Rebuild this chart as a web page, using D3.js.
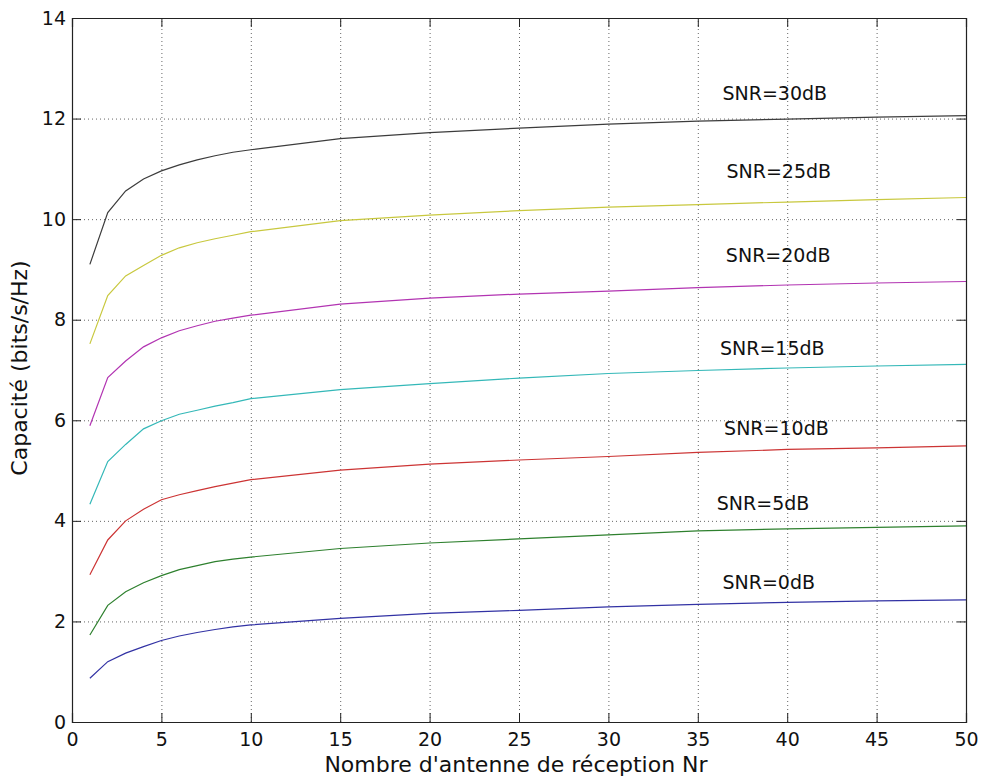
<!DOCTYPE html>
<html>
<head>
<meta charset="utf-8">
<script src="https://cdn.jsdelivr.net/npm/d3@7"></script>
<style>
  body { margin: 0; background: #fff; }
  text { font-family: "DejaVu Sans", sans-serif; fill: #111; }
</style>
</head>
<body>
<div id="chart"></div>
<script>
// Nombre d'antennes de réception (abscisses des points lus)
const nr = [1, 2, 3, 4, 5, 6, 7, 8, 9, 10, 15, 20, 25, 30, 35, 40, 45, 50];

// capacité (bits/s/Hz) pour chaque SNR
const cap0dB  = [0.87, 1.20, 1.37, 1.50, 1.62, 1.71, 1.78, 1.84, 1.89, 1.93, 2.06, 2.16, 2.22, 2.29, 2.34, 2.38, 2.41, 2.43];
const cap5dB  = [1.73, 2.32, 2.59, 2.77, 2.91, 3.03, 3.11, 3.19, 3.24, 3.28, 3.45, 3.56, 3.64, 3.72, 3.80, 3.84, 3.87, 3.90];
const cap10dB = [2.93, 3.62, 4.00, 4.23, 4.42, 4.52, 4.60, 4.68, 4.75, 4.82, 5.01, 5.13, 5.21, 5.28, 5.36, 5.42, 5.45, 5.49];
const cap15dB = [4.33, 5.18, 5.52, 5.83, 5.99, 6.12, 6.20, 6.28, 6.35, 6.43, 6.61, 6.73, 6.84, 6.93, 6.99, 7.04, 7.08, 7.11];
const cap20dB = [5.89, 6.85, 7.18, 7.46, 7.64, 7.78, 7.88, 7.97, 8.03, 8.09, 8.31, 8.43, 8.51, 8.57, 8.64, 8.69, 8.73, 8.76];
const cap25dB = [7.52, 8.48, 8.87, 9.08, 9.28, 9.43, 9.53, 9.61, 9.68, 9.75, 9.97, 10.08, 10.17, 10.24, 10.29, 10.34, 10.39, 10.43];
const cap30dB = [9.10, 10.13, 10.56, 10.80, 10.96, 11.08, 11.18, 11.26, 11.33, 11.38, 11.60, 11.72, 11.81, 11.89, 11.95, 11.99, 12.03, 12.06];

const snrLabels = ["SNR=0dB", "SNR=5dB", "SNR=10dB", "SNR=15dB", "SNR=20dB", "SNR=25dB", "SNR=30dB"];
const xTicks = [0, 5, 10, 15, 20, 25, 30, 35, 40, 45, 50];
const yTicks = [0, 2, 4, 6, 8, 10, 12, 14];

const series = [cap0dB, cap5dB, cap10dB, cap15dB, cap20dB, cap25dB, cap30dB];
const colors = ["#3232a4", "#2e802e", "#cc3434", "#34b8b8", "#b234b2", "#c8c83e", "#3c3c3c"];
// where each label sits, in data units (left edge, baseline)
const labelPos = [[36.38, 2.64], [36.06, 4.21], [36.47, 5.71], [36.24, 7.30], [36.57, 9.15], [36.6, 10.81], [36.38, 12.37]];

const W = 983, H = 783;
const margin = {top: 18, right: 17, bottom: 61, left: 72};
const width = W - margin.left - margin.right;
const height = H - margin.top - margin.bottom;

const svg = d3.select("#chart").append("svg")
    .attr("width", W)
    .attr("height", H)
  .append("g")
    .attr("transform", "translate(" + margin.left + "," + margin.top + ")");

const x = d3.scaleLinear().domain([0, 50]).range([0, width]);
const y = d3.scaleLinear().domain([0, 14]).range([height, 0]);

// grid, dotted
svg.append("g")
    .attr("class", "grid")
    .attr("transform", "translate(0," + height + ")")
    .call(d3.axisBottom(x).tickValues(xTicks.slice(1, -1)).tickSize(-height).tickFormat(""));
svg.append("g")
    .attr("class", "grid")
    .call(d3.axisLeft(y).tickValues(yTicks.slice(1, -1)).tickSize(-width).tickFormat(""));
svg.selectAll(".grid .domain").remove();
svg.selectAll(".grid line")
    .attr("stroke", "#666")
    .attr("stroke-width", 1)
    .attr("stroke-dasharray", "1,3");

// curves
const line = d3.line()
    .x((d, i) => x(nr[i]))
    .y(d => y(d));

svg.append("g")
  .selectAll("path")
  .data(series)
  .enter().append("path")
    .attr("d", d => line(d))
    .attr("fill", "none")
    .attr("stroke", (d, i) => colors[i])
    .attr("stroke-width", 1.2);

// axes, ticks pointing inward like matlab
const xAxis = svg.append("g")
    .attr("transform", "translate(0," + height + ")")
    .call(d3.axisBottom(x).tickValues(xTicks).tickSize(-9).tickPadding(11));
const yAxis = svg.append("g")
    .call(d3.axisLeft(y).tickValues(yTicks).tickSize(-9).tickPadding(6));
svg.append("g")
    .call(d3.axisTop(x).tickValues(xTicks).tickSize(-9).tickFormat(""));
svg.append("g")
    .attr("transform", "translate(" + width + ",0)")
    .call(d3.axisRight(y).tickValues(yTicks).tickSize(-9).tickFormat(""));

svg.selectAll(".domain").attr("stroke", "#222").attr("stroke-width", 1.2);
svg.selectAll(".tick line").filter(function() { return !this.closest(".grid"); })
    .attr("stroke", "#222");
xAxis.selectAll("text").style("font-size", "19px").attr("fill", "#111");
yAxis.selectAll("text").style("font-size", "19px").attr("fill", "#111");

// SNR labels
svg.append("g")
  .selectAll("text")
  .data(snrLabels)
  .enter().append("text")
    .attr("x", (d, i) => x(labelPos[i][0]))
    .attr("y", (d, i) => y(labelPos[i][1]))
    .style("font-size", "19px")
    .text(d => d);

// axis titles
svg.append("text")
    .attr("text-anchor", "middle")
    .attr("x", width / 2 - 3)
    .attr("y", height + 50)
    .style("font-size", "22px")
    .text("Nombre d'antenne de réception Nr");

svg.append("text")
    .attr("text-anchor", "middle")
    .attr("transform", "rotate(-90)")
    .attr("x", -height / 2 + 2)
    .attr("y", -45)
    .style("font-size", "22px")
    .text("Capacité (bits/s/Hz)");
</script>
</body>
</html>
